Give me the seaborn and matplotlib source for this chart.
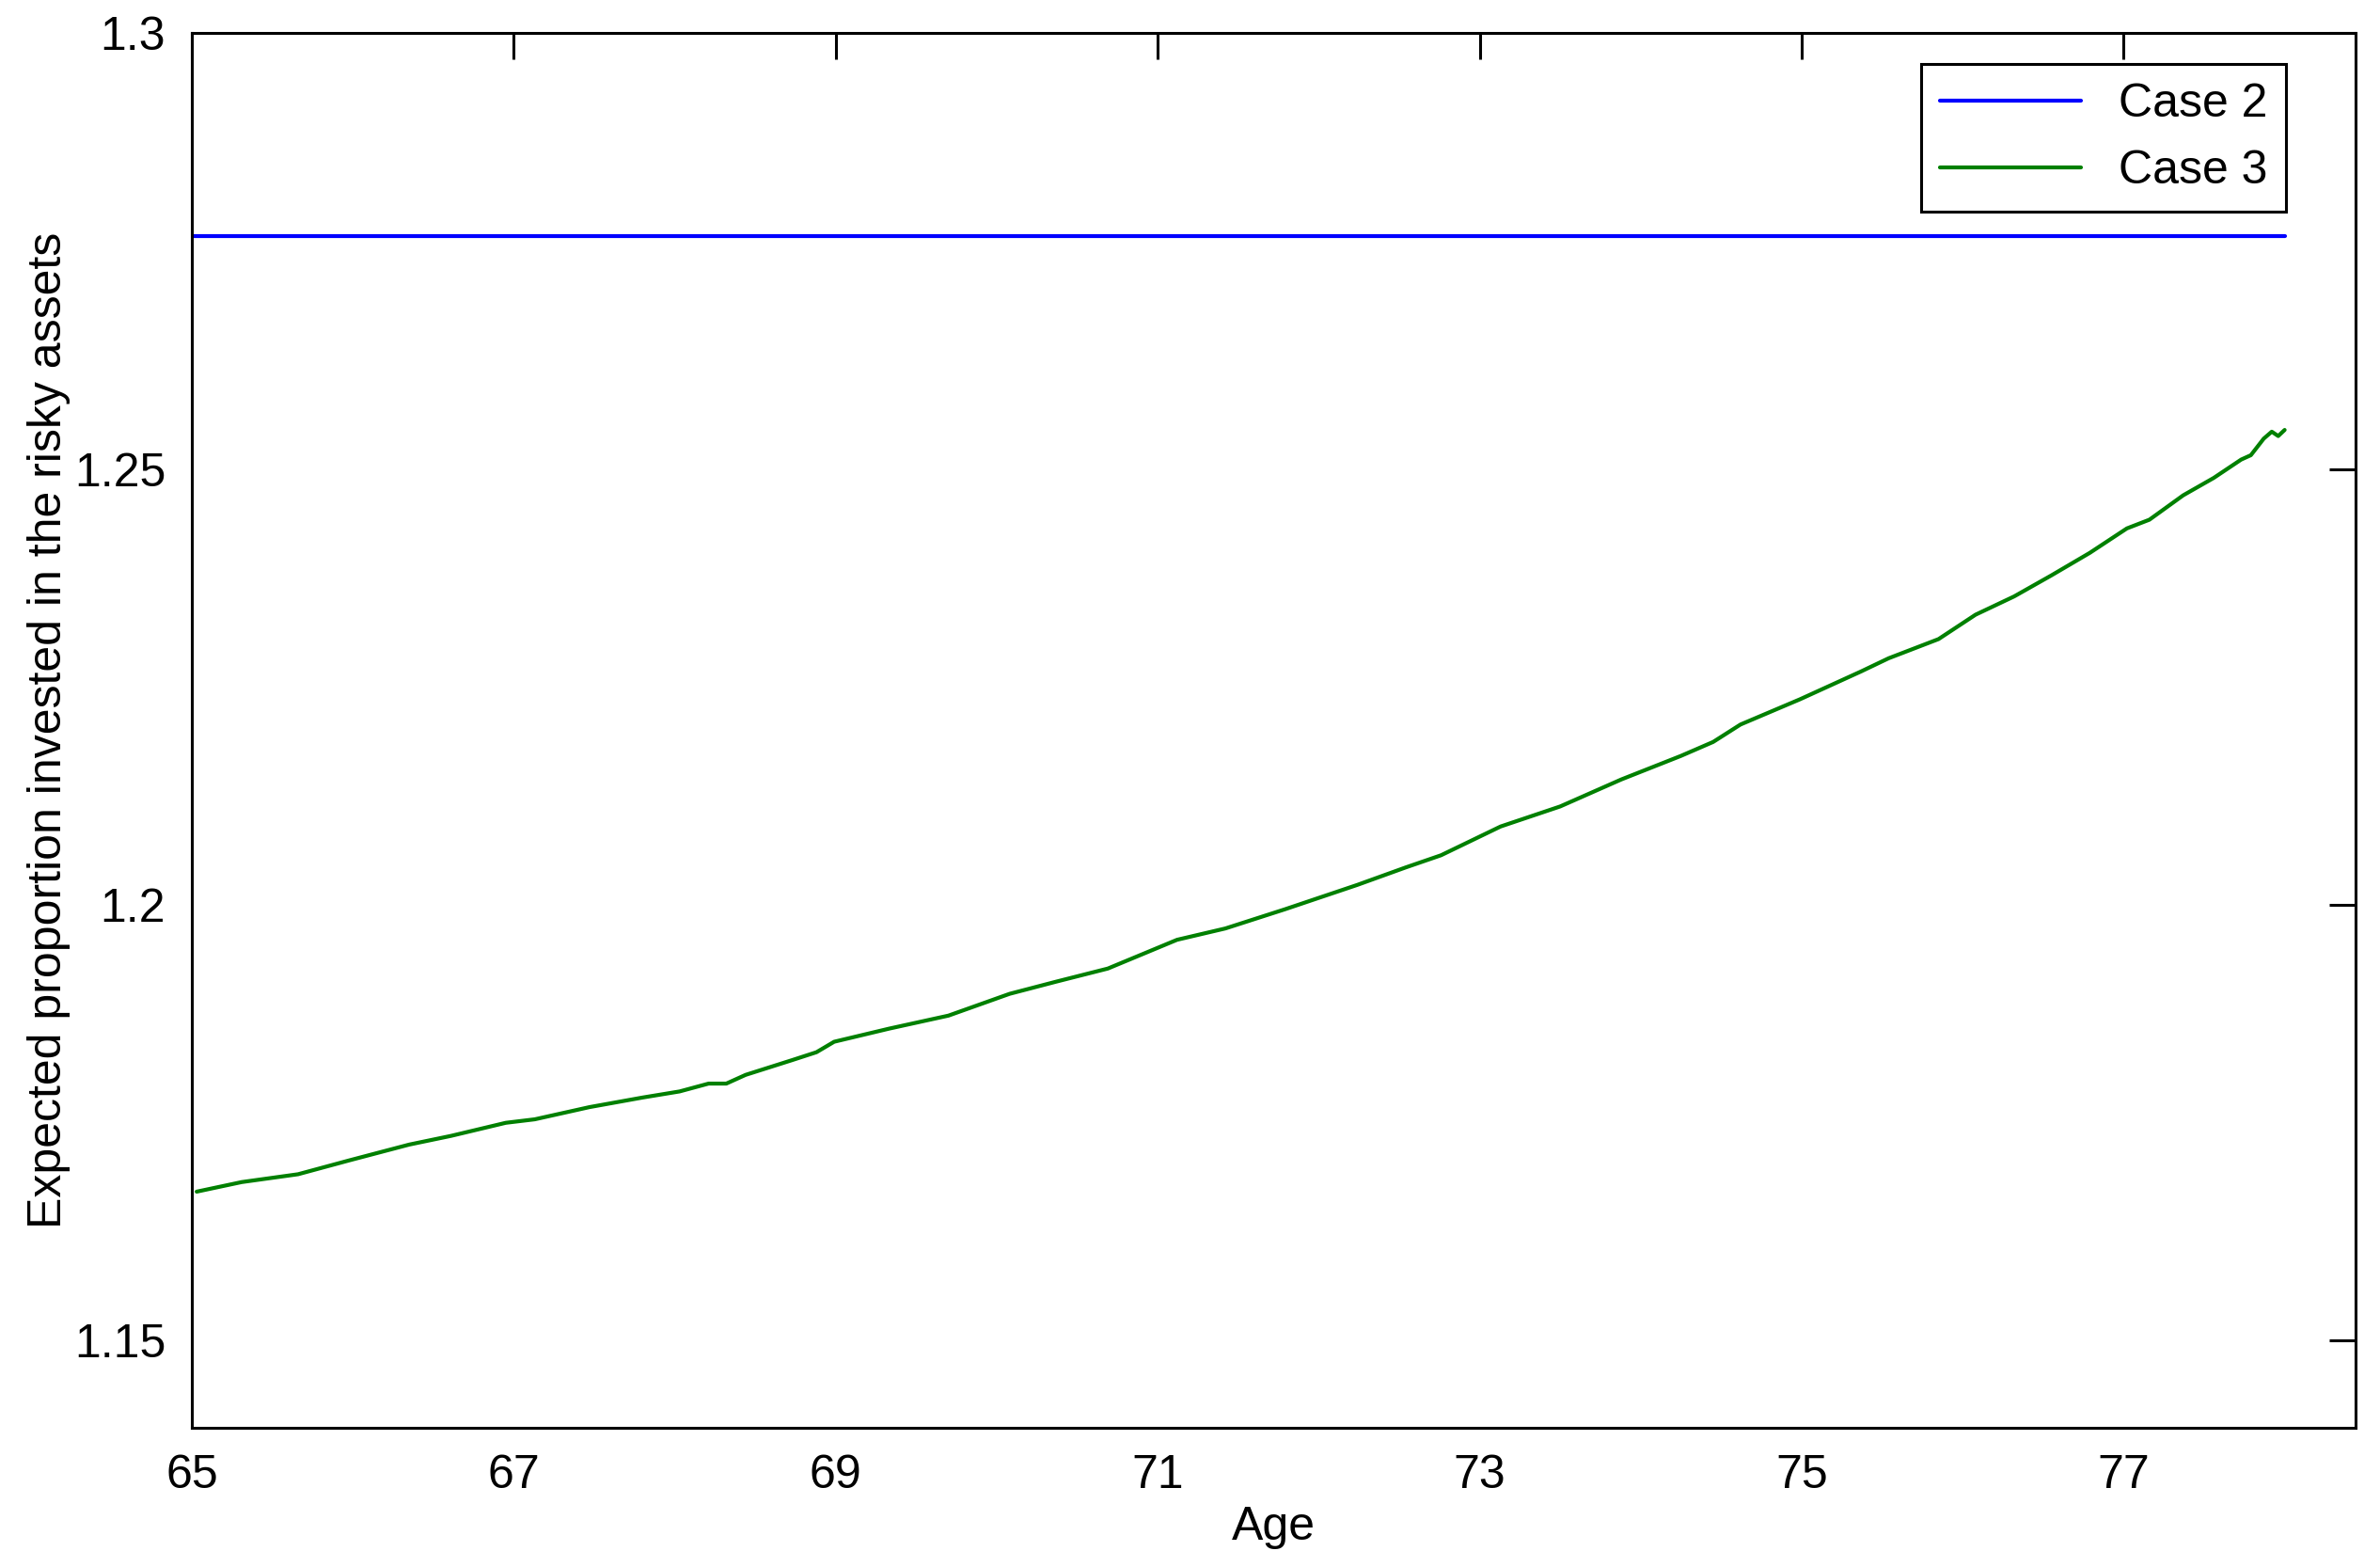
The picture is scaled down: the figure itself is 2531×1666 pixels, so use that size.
import matplotlib
matplotlib.use("Agg")
import matplotlib.pyplot as plt
import pandas as pd
import seaborn as sns

# Case 2: flat proportion
case2_age = [65.0, 78.0]
case2_value = [1.2767, 1.2767]

# Case 3
case3_age = [
    65.03, 65.31, 65.66, 65.98, 66.35, 66.61, 66.95, 67.13, 67.47, 67.80,
    68.03, 68.21, 68.32, 68.44, 68.73, 68.88, 68.99, 69.33, 69.70, 70.08,
    70.37, 70.69, 71.12, 71.42, 71.79, 72.24, 72.54, 72.76, 73.13, 73.50,
    73.88, 74.25, 74.45, 74.62, 74.99, 75.37, 75.54, 75.85, 76.08, 76.32,
    76.55, 76.79, 77.02, 77.16, 77.37, 77.56, 77.73, 77.79, 77.87, 77.92,
    77.96, 78.00,
]
case3_value = [
    1.1671, 1.1682, 1.1691, 1.1707, 1.1725, 1.1735, 1.1750, 1.1754, 1.1768, 1.1779,
    1.1786, 1.1795, 1.1795, 1.1805, 1.1822, 1.1831, 1.1843, 1.1858, 1.1873, 1.1898,
    1.1912, 1.1927, 1.1960, 1.1973, 1.1995, 1.2023, 1.2043, 1.2057, 1.2090, 1.2113,
    1.2144, 1.2171, 1.2187, 1.2207, 1.2236, 1.2268, 1.2283, 1.2305, 1.2333, 1.2354,
    1.2378, 1.2404, 1.2432, 1.2442, 1.2470, 1.2490, 1.2511, 1.2516, 1.2535, 1.2543,
    1.2538, 1.2545,
]

x_ticks = [65, 67, 69, 71, 73, 75, 77]
y_ticks = [1.15, 1.2, 1.25, 1.3]
y_tick_labels = ["1.15", "1.2", "1.25", "1.3"]

sns.set_style("white")
plt.rcParams["font.family"] = ["Liberation Sans", "DejaVu Sans"]
plt.rcParams["axes.linewidth"] = 1.1
plt.rcParams["text.color"] = "black"
plt.rcParams["axes.labelcolor"] = "black"

df = pd.concat(
    [
        pd.DataFrame({"age": case2_age, "value": case2_value, "case": "Case 2"}),
        pd.DataFrame({"age": case3_age, "value": case3_value, "case": "Case 3"}),
    ],
    ignore_index=True,
)

fig = plt.figure(figsize=(12.655, 8.33), dpi=200)
ax = fig.add_axes([0.0806, 0.0888, 0.9091, 0.8899])

sns.lineplot(
    data=df,
    x="age",
    y="value",
    hue="case",
    palette={"Case 2": (0, 0, 1), "Case 3": (0, 0.5, 0)},
    linewidth=1.5,
    ax=ax,
    sort=False,
)

ax.set_xlim(65, 78.44)
ax.set_ylim(1.14, 1.3)
ax.set_xticks(x_ticks)
ax.set_yticks(y_ticks)
ax.set_yticklabels(y_tick_labels)
ax.tick_params(
    direction="in", length=10, width=1.1, labelsize=18,
    top=True, right=True, pad=10, colors="black",
)
for spine in ax.spines.values():
    spine.set_color("black")

ax.set_xlabel("Age", fontsize=18)
ax.set_ylabel("Expected proportion invested in the risky assets", fontsize=18)
ax.xaxis.set_label_coords(0.5, -0.056)
ax.yaxis.set_label_coords(-0.056, 0.5)

ax.legend(
    title=None,
    loc="upper right",
    bbox_to_anchor=(0.968, 0.978),
    borderaxespad=0,
    fontsize=18,
    handlelength=3.0,
    frameon=True,
    fancybox=False,
    edgecolor="black",
    framealpha=1,
).get_frame().set_linewidth(1.1)

fig.savefig("out.png", dpi=200)
